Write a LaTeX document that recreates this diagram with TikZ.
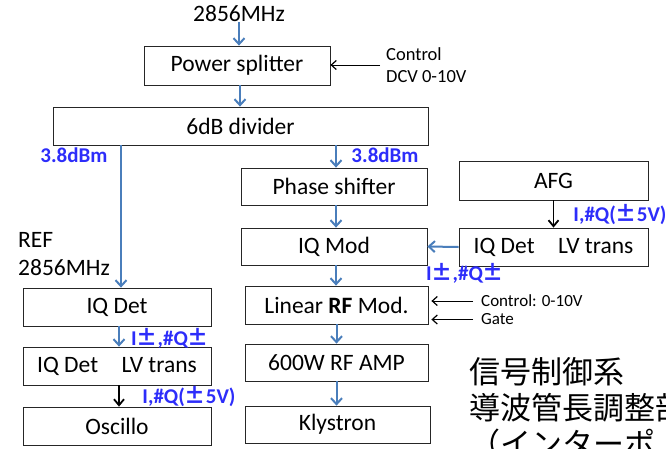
\documentclass[tikz,border=0pt]{standalone}
\usepackage{fontspec}
\setmainfont{Carlito}
\newfontfamily\cjk{Noto Sans CJK JP}
\usetikzlibrary{arrows.meta}
\definecolor{arrblue}{RGB}{74,126,187}
\definecolor{lblblue}{RGB}{45,45,250}
\newcommand{\pmj}{{\cjk ±}}
\tikzset{
  blk/.style={draw=black!85, line width=0.8pt, inner sep=0pt, font=\fontsize{23.5}{25}\selectfont},
  barrow/.style={draw=arrblue, line width=2pt, -{Straight Barb[length=6pt,width=11pt,line width=2pt]}},
  karrow/.style={draw=black, line width=1.8pt, -{Straight Barb[length=6pt,width=10pt,line width=1.8pt]}},
  tarrow/.style={draw=black, line width=0.8pt, -{Straight Barb[length=5pt,width=9pt,line width=1.2pt]}},
  lbl/.style={text=lblblue, font=\fontsize{21}{23}\selectfont\bfseries, inner sep=0pt},
  small/.style={font=\fontsize{18.5}{22}\selectfont, inner sep=0pt},
  smaller/.style={font=\fontsize{17}{18}\selectfont, inner sep=0pt},
  big/.style={font=\fontsize{23.5}{28}\selectfont, inner sep=0pt}
}
\begin{document}
\begin{tikzpicture}[x=1pt,y=-1pt]
\useasboundingbox (0,0) rectangle (666,448);
\clip (0,0) rectangle (666,448);
% top input
\node[big] (in) at (239,14) {2856MHz};
% boxes
\node[blk, minimum width=186pt, minimum height=39pt] (ps) at (237,65.5) {Power splitter};
\node[blk, minimum width=375pt, minimum height=38pt] (div) at (240.5,126) {6dB divider};
\node[blk, minimum width=186pt, minimum height=37pt] (ph) at (334,186.5) {Phase shifter};
\node[blk, minimum width=189pt, minimum height=39pt] (afg) at (553.5,180.5) {AFG};
\node[blk, minimum width=189pt, minimum height=38pt] (lvr) at (553.5,247) {IQ Det\quad LV trans};
\node[blk, minimum width=186pt, minimum height=37pt] (iqm) at (334,246.5) {IQ Mod};
\node[blk, minimum width=183pt, minimum height=38pt] (lin) at (336.5,305) {Linear \textbf{RF} Mod.};
\node[blk, minimum width=183pt, minimum height=37pt] (amp) at (336.5,362.5) {600W RF AMP};
\node[blk, minimum width=185pt, minimum height=37pt] (kly) at (337.5,424.5) {Klystron};
\node[blk, minimum width=188pt, minimum height=38pt] (iqd) at (117,307) {IQ Det};
\node[blk, minimum width=188pt, minimum height=38pt] (lvl) at (117,366) {IQ Det\quad LV trans};
\node[blk, minimum width=188pt, minimum height=38pt] (osc) at (117,426) {Oscillo};
% side texts
\node[small, anchor=west, align=left] (ctl) at (386,65) {Control\\DCV 0-10V};
\node[smaller, anchor=west] (ctl2) at (481,301) {Control: 0-10V};
\node[smaller, anchor=west] (gate) at (481,319.5) {Gate};
\node[big, anchor=west, align=left] (ref) at (18,254) {REF\\2856MHz};
% blue labels
\node[lbl] (l1) at (74,155) {3.8dBm};
\node[lbl] (l2) at (385,155) {3.8dBm};
\node[lbl] (l3) at (620,215) {I,\#Q(\pmj5V)};
\node[lbl] (l4) at (465,273) {I\pmj,\#Q\pmj};
\node[lbl] (l5) at (170,338) {I\pmj,\#Q\pmj};
\node[lbl] (l6) at (189,397) {I,\#Q(\pmj5V)};
% Japanese text
\node[anchor=north west, align=left, inner sep=0pt, font=\cjk\fontsize{31}{36}\selectfont] (jp) at (469,357) {信号制御系\\導波管長調整部\\（インターポ};
% connectors
\draw[barrow] (in.south) -- (in.south |- ps.north);
\draw[barrow] ([xshift=3pt]ps.south) -- ([xshift=3pt]ps.south |- div.north);
\draw[barrow] ([xshift=4pt]iqd.north |- div.south) -- ([xshift=4pt]iqd.north);
\draw[barrow] ([xshift=2pt]ph.north |- div.south) -- ([xshift=2pt]ph.north);
\draw[barrow] ([xshift=2pt]ph.south) -- ([xshift=2pt]iqm.north);
\draw[barrow] ([xshift=2pt]iqm.south) -- ([xshift=2pt]iqm.south |- lin.north);
\draw[barrow] (lin.south) -- (amp.north);
\draw[barrow] (amp.south) -- (amp.south |- kly.north);
\draw[barrow] (lvr.west) -- (iqm.east);
\draw[barrow] ([xshift=2pt]iqd.south) -- ([xshift=2pt]lvl.north);
\draw[karrow] (afg.south) -- (lvr.north);
\draw[karrow] ([xshift=2pt]lvl.south) -- ([xshift=2pt]osc.north);
\draw[tarrow] ([xshift=-6pt]ctl.west) -- (ctl.west -| ps.east);
\draw[tarrow] ([xshift=-8pt]ctl2.west) -- ([xshift=3pt]ctl2.west -| lin.east);
\draw[tarrow] ([xshift=-8pt]gate.west) -- ([xshift=3pt]gate.west -| lin.east);
\end{tikzpicture}
\end{document}
